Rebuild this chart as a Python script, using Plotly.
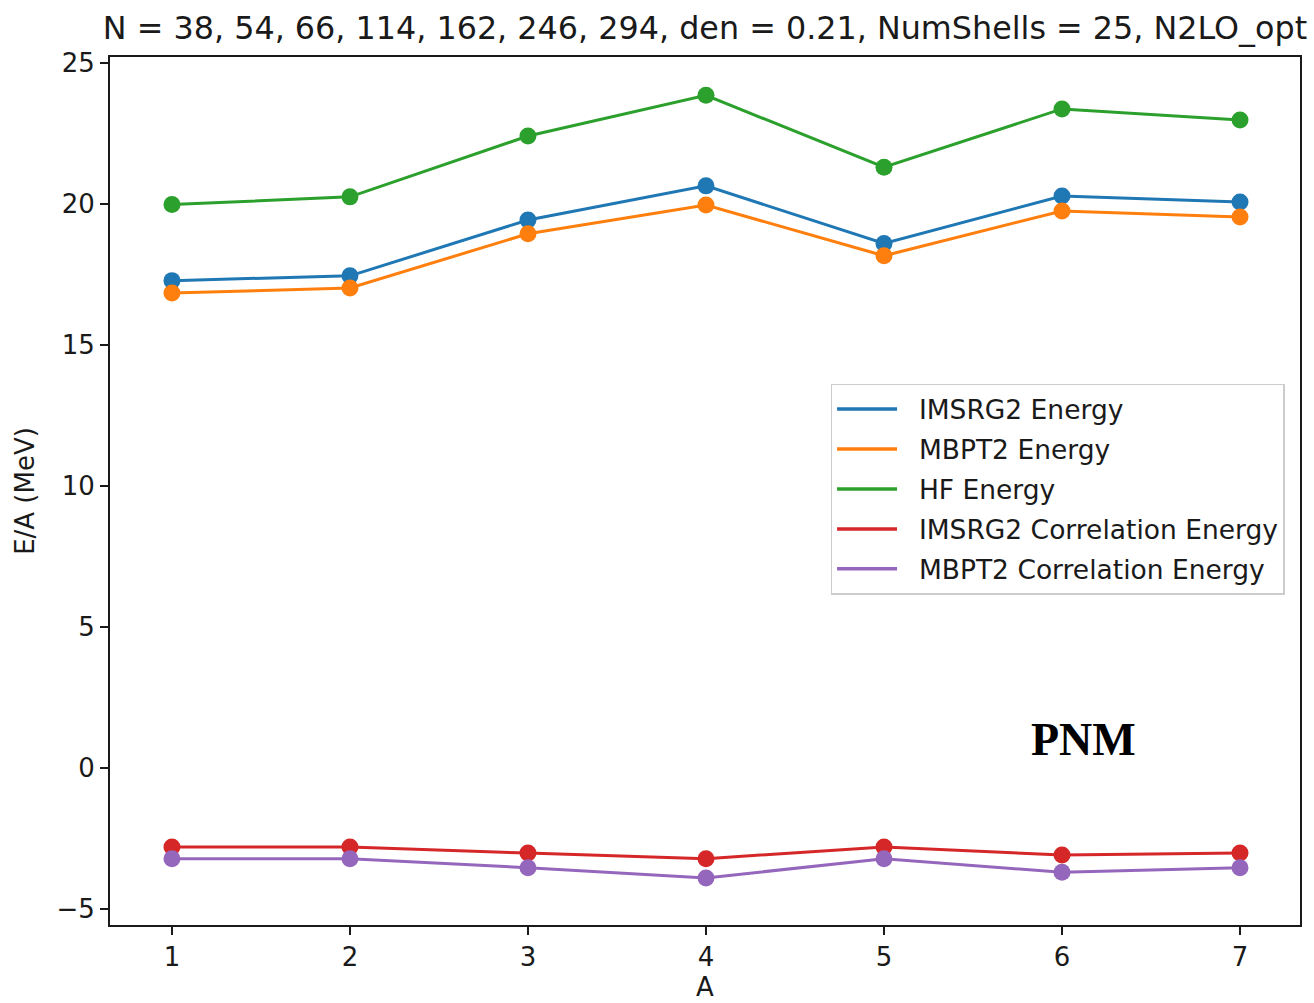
import plotly.graph_objects as go

# Pure neutron matter energies per particle vs. A
A = [1, 2, 3, 4, 5, 6, 7]
imsrg2_energy = [17.28, 17.45, 19.43, 20.64, 18.60, 20.28, 20.07]
mbpt2_energy = [16.84, 17.02, 18.94, 19.96, 18.16, 19.75, 19.54]
hf_energy = [19.98, 20.25, 22.41, 23.85, 21.30, 23.37, 22.98]
imsrg2_corr = [-2.80, -2.80, -3.02, -3.22, -2.80, -3.09, -3.02]
mbpt2_corr = [-3.22, -3.22, -3.54, -3.90, -3.22, -3.70, -3.54]

series_names = ["IMSRG2 Energy", "MBPT2 Energy", "HF Energy",
                "IMSRG2 Correlation Energy", "MBPT2 Correlation Energy"]
series_values = [imsrg2_energy, mbpt2_energy, hf_energy, imsrg2_corr, mbpt2_corr]
colors = ["#1f77b4", "#ff7f0e", "#2ca02c", "#d62728", "#9467bd"]

title_text = "N = 38, 54, 66, 114, 162, 246, 294, den = 0.21, NumShells = 25, N2LO_opt"
y_ticks = [-5, 0, 5, 10, 15, 20, 25]

FONT = "DejaVu Sans"
LEGEND_PAD = "\u00a0\u00a0"  # gap between legend line and its label

fig = go.Figure()
for i, (name, vals, col) in enumerate(zip(series_names, series_values, colors)):
    # data: line with circle markers
    fig.add_trace(go.Scatter(
        x=A, y=vals, name=name, mode="lines+markers",
        line=dict(color=col, width=3),
        marker=dict(color=col, size=17, symbol="circle"),
        showlegend=False,
    ))
    # legend entry: line only
    fig.add_trace(go.Scatter(
        x=[None], y=[None], name=LEGEND_PAD + name, mode="lines",
        line=dict(color=col, width=3.5),
        legendgroup=f"g{i}", showlegend=True,
    ))

axis_common = dict(
    showgrid=False, zeroline=False, showline=True, mirror=True,
    linecolor="#1a1a1a", linewidth=2, automargin=False,
    ticks="outside", ticklen=8, tickwidth=1.6, tickcolor="#1a1a1a",
    tickfont=dict(family=FONT, size=26, color="#1a1a1a"),
)

fig.update_layout(
    width=1314, height=1003,
    margin=dict(l=110, r=14, t=57, b=78),
    paper_bgcolor="white", plot_bgcolor="white",
    showlegend=True,
    title=dict(text=title_text, x=0.5, xanchor="center", xref="paper",
               y=0.972, yanchor="middle", yref="container",
               font=dict(family=FONT, size=31.8, color="#1a1a1a")),
    xaxis=dict(range=[0.652, 7.337], tickmode="array", tickvals=A,
               ticktext=[str(a) for a in A],
               title=dict(text="A", standoff=4,
                          font=dict(family=FONT, size=26, color="#1a1a1a")),
               **axis_common),
    yaxis=dict(range=[-5.57, 25.21], tickmode="array", tickvals=y_ticks,
               ticktext=[f"\u2212{abs(v)}" if v < 0 else str(v) for v in y_ticks],
               title=dict(text="E/A (MeV)", standoff=14,
                          font=dict(family=FONT, size=26, color="#1a1a1a")),
               **axis_common),
    legend=dict(
        x=0.6055, y=0.6235, xanchor="left", yanchor="top",
        bgcolor="rgba(255,255,255,0.8)", bordercolor="#cccccc", borderwidth=1.5,
        font=dict(family=FONT, size=26.5, color="#1a1a1a"),
        traceorder="grouped", tracegroupgap=2.5,
        itemwidth=60,
    ),
    annotations=[dict(
        text="<b>PNM</b>", x=6.12, y=1.0, xref="x", yref="y",
        xanchor="center", yanchor="middle", showarrow=False,
        font=dict(family="Liberation Serif", size=46, color="black"),
    )],
)

fig.write_html("out.html")
